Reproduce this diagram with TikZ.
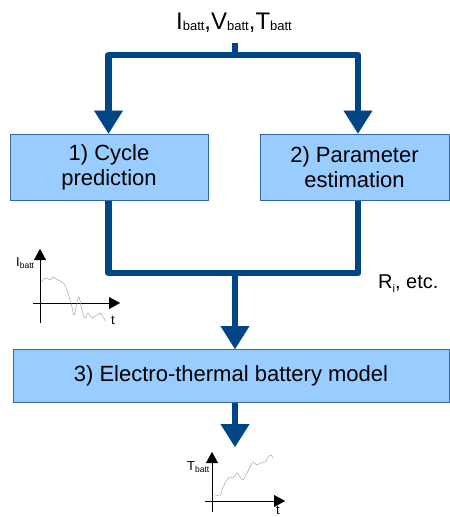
\documentclass[tikz,border=0pt]{standalone}
\usepackage{fontspec}
\setmainfont{Liberation Sans}
\usetikzlibrary{arrows.meta}
\definecolor{linec}{HTML}{004586}
\definecolor{boxfill}{HTML}{99CCFF}
\definecolor{boxline}{HTML}{3465A4}
\newcommand{\bsub}[1]{\raisebox{-1.5pt}{\fontsize{13}{13}\selectfont #1}}
\newcommand{\ssub}[1]{\raisebox{-2pt}{\fontsize{8.5}{8.5}\selectfont #1}}
\begin{document}
\begin{tikzpicture}[x=1pt,y=-1pt,
  box/.style={draw=boxline, line width=1pt, fill=boxfill, font=\fontsize{22}{25}\selectfont, align=center, inner sep=0pt},
  conn/.style={draw=linec, line width=6.5pt, line join=round},
  bigtip/.style={-{Triangle[width=29pt 0 0,length=23pt 0 0,line width=0.1pt]}},
  axis/.style={line width=0.8pt, -{Triangle[width=12pt 0 0,length=11pt 0 0,line width=0.1pt]}},
  noise/.style={draw=black!35, line width=0.5pt},
  small/.style={font=\fontsize{13}{13}\selectfont, inner sep=0pt},
]
\useasboundingbox (0,0) rectangle (450,517);

% boxes
\node[box, minimum width=198pt, minimum height=66pt] (b1) at (109,167) {1) Cycle\\prediction};
\node[box, minimum width=189pt, minimum height=66pt] (b2) at (354.5,167) {2) Parameter\\estimation};
\node[box, minimum width=436pt, minimum height=53pt] (b3) at (231,376) {3) Electro-thermal battery model};

% labels
\node[anchor=base, inner xsep=0pt, inner ysep=11pt, font=\fontsize{24}{24}\selectfont] (lbl) at (234,29)
  {I\bsub{batt},V\bsub{batt},T\bsub{batt}};
\node[anchor=base west, inner sep=0pt, font=\fontsize{20}{24}\selectfont] (ri) at (378,288)
  {R\raisebox{-4pt}{\fontsize{11}{11}\selectfont i}, etc.};

% connector coordinates
\coordinate (split) at (235,55);
\coordinate (l) at (108.5,55);
\coordinate (r) at (358,55);
\coordinate (m) at (235,273);
\coordinate (out) at (235,447);

\draw[conn] (lbl.south -| split) -- (split);
\draw[conn,bigtip] (split) -- (l) -- (b1.north -| l);
\draw[conn,bigtip] (split) -- (r) -- (b2.north -| r);
\draw[conn] (b1.south -| l) -- (l |- m) -- (r |- m) -- (b2.south -| r);
\draw[conn,bigtip] (m) -- (b3.north -| m);
\draw[conn,bigtip] (b3.south -| m) -- (out);

% graph 1: current
\draw[axis] (40,323) -- (40,249);
\draw[axis] (33,303) -- (120,303);
\node[small, anchor=base west] (g1y) at (16,266) {I\ssub{batt}};
\node[small, anchor=base west] (g1x) at (111,324) {t};
\draw[noise] plot[smooth, tension=0.5] coordinates {
  (41,282) (44,279) (47,278) (50,280) (53,277) (56,279) (58,280) (62,282) (65,285)
  (68,293) (72,307) (74,315) (77,303) (79,297) (82,310) (85,318) (88,313)
  (92,318) (95,316) (97,315) (100,313) (103,317) (106,321)};

% graph 2: temperature
\draw[axis] (212,512) -- (212,452);
\draw[axis] (205,501) -- (285,501);
\node[small, anchor=base west] (g2y) at (187,470) {T\ssub{batt}};
\node[small, anchor=base west] (g2x) at (276,514) {t};
\draw[noise] plot[smooth, tension=0.5] coordinates {
  (215,495) (220,495) (223,487) (227,480) (230,477) (233,478) (237,473)
  (240,477) (243,480) (247,473) (250,467) (253,462) (257,465) (260,463)
  (265,462) (270,455) (273,458)};
\end{tikzpicture}
\end{document}
